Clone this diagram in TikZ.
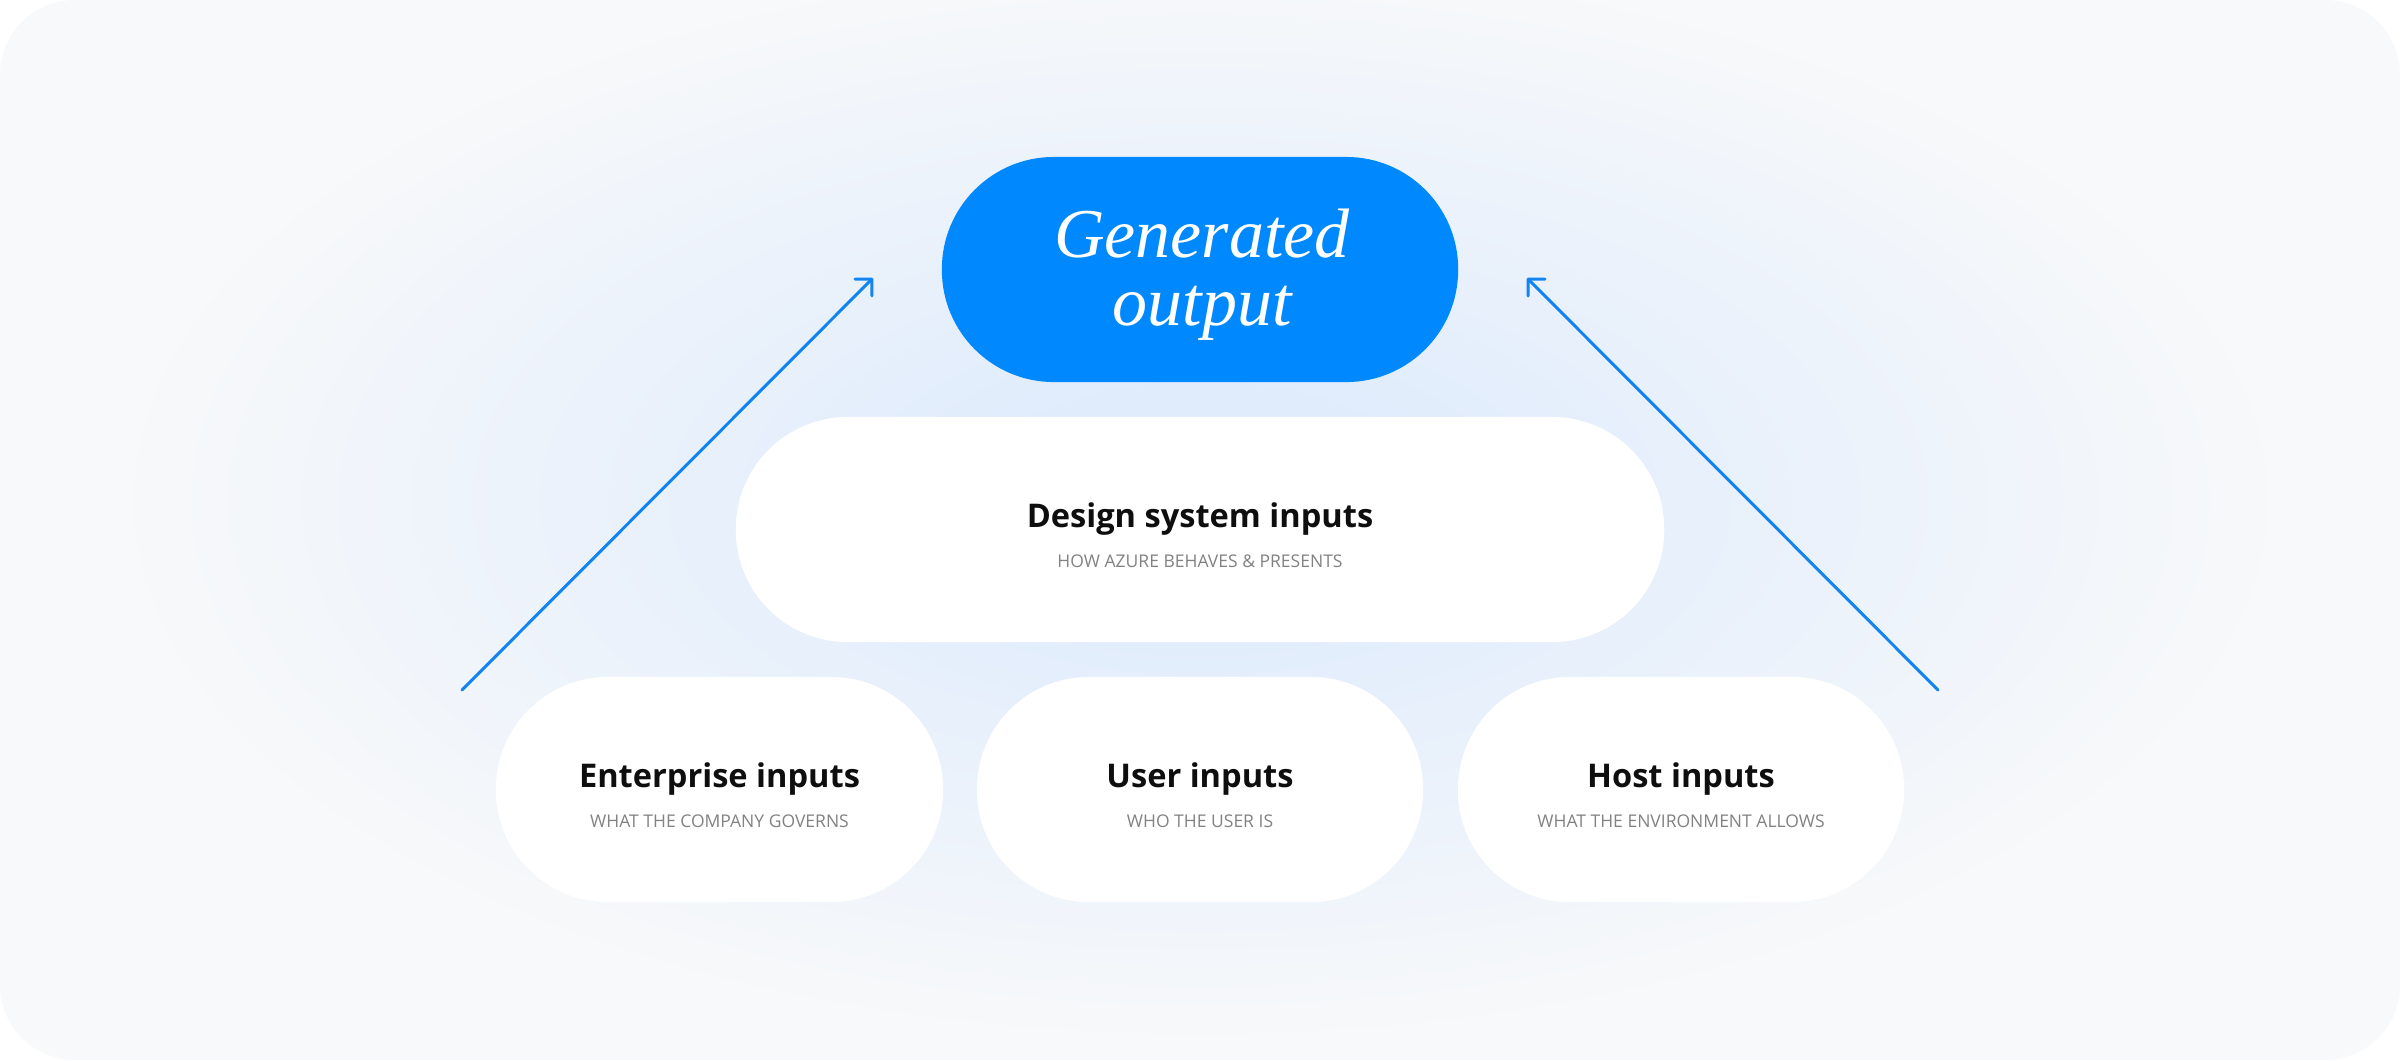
\documentclass[tikz,border=0pt]{standalone}
\usepackage{fontspec}
\setmainfont{Open Sans}
\newfontfamily\serifit{Liberation Serif}
\usetikzlibrary{arrows.meta}
\definecolor{bgc}{HTML}{F8F9FA}
\definecolor{glowin}{HTML}{E0ECFC}
\definecolor{azure}{HTML}{0088FF}
\definecolor{arrowc}{HTML}{1284F2}
\definecolor{subc}{HTML}{828282}
\definecolor{titlec}{HTML}{0E0E0E}
\pgfdeclareradialshading{glow}{\pgfpoint{0bp}{0bp}}{color(0bp)=(glowin); color(5bp)=(glowin); color(25bp)=(bgc); color(50bp)=(bgc)}
\tikzset{
  pill/.style={rectangle, fill=white, draw=none, inner sep=0pt, minimum height=2.25cm, rounded corners=1.12cm},
  titletext/.style={font=\bfseries\fontsize{9.27pt}{11pt}\selectfont, text=titlec, inner sep=0pt, anchor=base},
  subtext/.style={font=\fontsize{4.98pt}{6pt}\selectfont, text=subc, inner sep=0pt, anchor=base},
  gentext/.style={font=\serifit\itshape\fontsize{19.9pt}{22pt}\selectfont, text=white, inner sep=0pt, anchor=base},
  flow/.style={draw=arrowc, line width=0.85pt, line cap=round, line join=round, -{Straight Barb[length=3.4pt, width=6.8pt, line cap=round, line join=round]}}
}
\begin{document}
\begin{tikzpicture}[x=0.01cm,y=-0.01cm]
\useasboundingbox (0,0) rectangle (2400,1060);
\fill[white] (0,0) rectangle (2400,1060);
\begin{scope}
  \clip[rounded corners=0.75cm] (0,0) rectangle (2400,1060);
  \fill[bgc] (0,0) rectangle (2400,1060);
  \shade[shading=glow] (1200,500) ellipse [x radius=11cm, y radius=5.5cm];
\end{scope}

% pills
\node[pill, fill=azure, minimum width=5.16cm] (gen) at (1200,269.5) {};
\node[pill, minimum width=9.28cm] (design) at (1200,529.5) {};
\node[pill, minimum width=4.47cm] (ent) at (719.5,789.5) {};
\node[pill, minimum width=4.46cm] (user) at (1200,789.5) {};
\node[pill, minimum width=4.46cm] (host) at (1681,789.5) {};

% texts
\node[gentext] (gen1) at (1202,257) {Generated};
\node[gentext] (gen2) at (1202,325) {output};

\node[titletext] (designt) at (1200,527) {Design system inputs};
\node[subtext] (designs) at (1200,567) {HOW AZURE BEHAVES \& PRESENTS};

\node[titletext] (entt) at (719.5,787) {Enterprise inputs};
\node[subtext] (ents) at (719.5,827) {WHAT THE COMPANY GOVERNS};

\node[titletext] (usert) at (1200,787) {User inputs};
\node[subtext] (users) at (1200,827) {WHO THE USER IS};

\node[titletext] (hostt) at (1681,787) {Host inputs};
\node[subtext] (hosts) at (1681,827) {WHAT THE ENVIRONMENT ALLOWS};

% arrows
\coordinate (lstart) at (462,690);
\coordinate (lend) at (873,278);
\coordinate (rstart) at (1938,690);
\coordinate (rend) at (1527,278);
\draw[flow] (lstart) -- (lend);
\draw[flow] (rstart) -- (rend);
\end{tikzpicture}
\end{document}
